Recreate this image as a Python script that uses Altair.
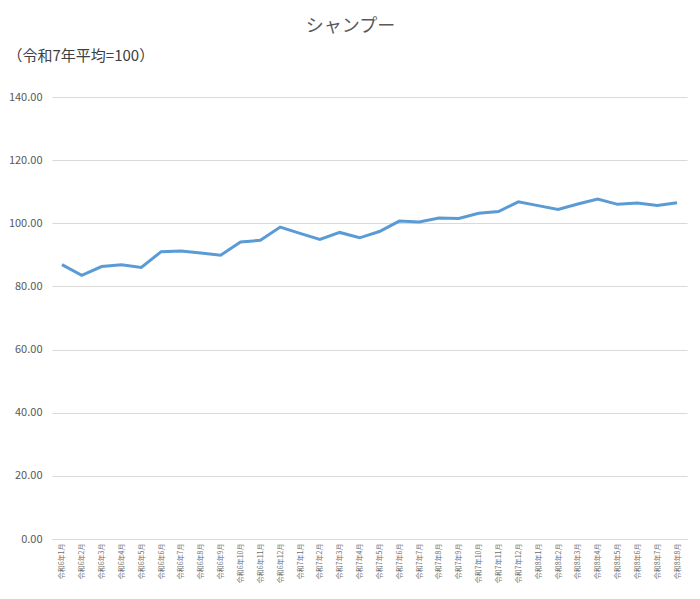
import altair as alt
import pandas as pd

months = [
    "令和6年1月", "令和6年2月", "令和6年3月", "令和6年4月", "令和6年5月", "令和6年6月",
    "令和6年7月", "令和6年8月", "令和6年9月", "令和6年10月", "令和6年11月", "令和6年12月",
    "令和7年1月", "令和7年2月", "令和7年3月", "令和7年4月", "令和7年5月", "令和7年6月",
    "令和7年7月", "令和7年8月", "令和7年9月", "令和7年10月", "令和7年11月", "令和7年12月",
    "令和8年1月", "令和8年2月", "令和8年3月", "令和8年4月", "令和8年5月", "令和8年6月",
    "令和8年7月", "令和8年8月",
]
values = [
    86.9, 83.5, 86.3, 86.9, 86.0, 91.0, 91.2, 90.6, 89.9, 94.1, 94.6, 98.8,
    96.8, 94.9, 97.1, 95.4, 97.4, 100.7, 100.4, 101.7, 101.5, 103.2, 103.7, 106.8,
    105.6, 104.4, 106.1, 107.7, 106.0, 106.4, 105.6, 106.5,
]

df = pd.DataFrame({"month": months, "value": values})

FONT = "Noto Sans CJK JP"

chart = (
    alt.Chart(df)
    .mark_line(color="#5b9bd5", strokeWidth=3)
    .encode(
        x=alt.X(
            "month:N",
            sort=months,
            scale=alt.Scale(type="point", padding=0.5),
            axis=alt.Axis(
                title=None,
                labelAngle=270,
                labelAlign="right",
                labelBaseline="middle",
                labelFontSize=7,
                labelColor="#6e6e6e",
                labelPadding=4,
                ticks=False,
                domain=True,
                domainColor="#d9d9d9",
                grid=False,
                labelFont=FONT,
            ),
        ),
        y=alt.Y(
            "value:Q",
            scale=alt.Scale(domain=[0, 140]),
            axis=alt.Axis(
                values=[0, 20, 40, 60, 80, 100, 120, 140],
                format=".2f",
                title="（令和7年平均=100）",
                titleAngle=0,
                titleAlign="left",
                titleBaseline="alphabetic",
                titleX=-45,
                titleY=-37,
                titleFontSize=15,
                titleFontWeight="normal",
                titleColor="#404040",
                titleFont=FONT,
                labelFontSize=11,
                labelColor="#595959",
                labelFont=FONT,
                labelPadding=10,
                ticks=False,
                domain=False,
                grid=True,
                gridColor="#d9d9d9",
            ),
        ),
    )
    .properties(
        width=635,
        height=442,
        background="white",
        autosize=alt.AutoSizeParams(type="none"),
        padding={"left": 44, "top": 89, "right": 5, "bottom": 52},
        title=alt.TitleParams(
            text="シャンプー",
            fontSize=18,
            font=FONT,
            fontWeight="normal",
            color="#595959",
            anchor="middle",
            dx=-19,
            offset=12,
        ),
    )
    .configure_view(stroke="transparent", strokeWidth=0)
)

chart.save("out.html", embed_options={"renderer": "svg", "actions": False})
